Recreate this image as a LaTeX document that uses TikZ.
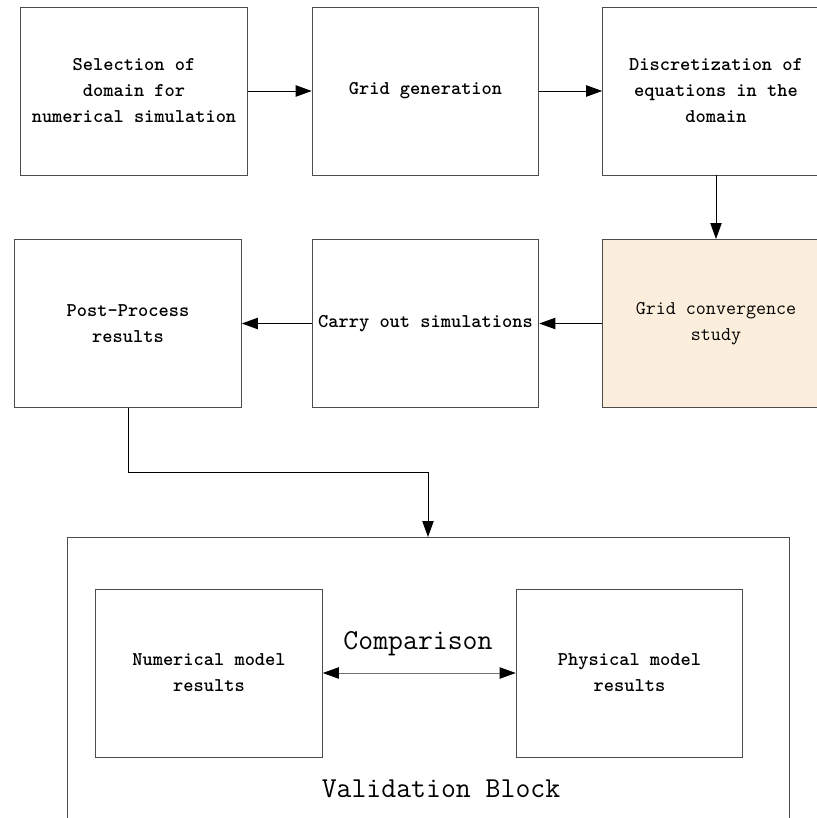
\documentclass[tikz,border=0pt]{standalone}
\usepackage{fontspec}
\usetikzlibrary{arrows.meta}
\definecolor{studycream}{RGB}{252,238,220}

\begin{document}
\begin{tikzpicture}[x=0.75pt,y=0.75pt,yscale=-1,xscale=1,
  block/.style={draw=black!70, line width=0.7pt, minimum width=170pt, minimum height=126pt,
    inner sep=0pt, align=center, font=\ttfamily\bfseries\fontsize{14.6}{19.5}\selectfont},
  flow/.style={draw=black, line width=0.7pt, -{Triangle[length=12pt,width=8.5pt]}},
  bigtext/.style={font=\ttfamily\fontsize{21.7}{24}\selectfont, inner sep=0pt}]
%set diagram area, 817 x 818
\clip (0,0) rectangle (817,818);

%Top row
\node [block] (select) at (134,91) {Selection of\\ domain for\\numerical simulation};
\node [block] (grid) at (425.5,91) {Grid generation};
\node [block] (discret) at (716,91) {Discretization of\\equations in the\\domain};
%Middle row
\node [block, fill=studycream, font=\ttfamily\fontsize{14.6}{19.5}\selectfont] (conv) at (716,323.5) {Grid convergence\\study};
\node [block] (simul) at (425.5,323.5) {Carry out simulations};
\node [block] (post) at (128,323.5) {Post-Process\\results};

%Validation block, bottom lies outside the picture
\draw [draw=black!70, line width=0.7pt] (67,830) -- (67,537) -- (789,537) -- (789,830);
\coordinate (valin) at (428,537);
\node [block] (numer) at (209,673) {Numerical model\\results};
\node [block] (phys) at (629.5,673) {Physical model\\results};
\node [bigtext] (compar) at (418,644) {Comparison};
\node [bigtext] (valname) at (441,789) {Validation Block};

%Connectors
\draw [flow] (select) -- (grid);
\draw [flow] (grid) -- (discret);
\draw [flow] (discret) -- (conv);
\draw [flow] (conv) -- (simul);
\draw [flow] (simul) -- (post);
\draw [flow] (post.south) -- (128,472) -- (428,472) -- (valin);
\draw [draw=black!55, line width=0.7pt, {Triangle[length=12pt,width=8.5pt,color=black]}-{Triangle[length=12pt,width=8.5pt,color=black]}] (numer) -- (phys);

\end{tikzpicture}
\end{document}
